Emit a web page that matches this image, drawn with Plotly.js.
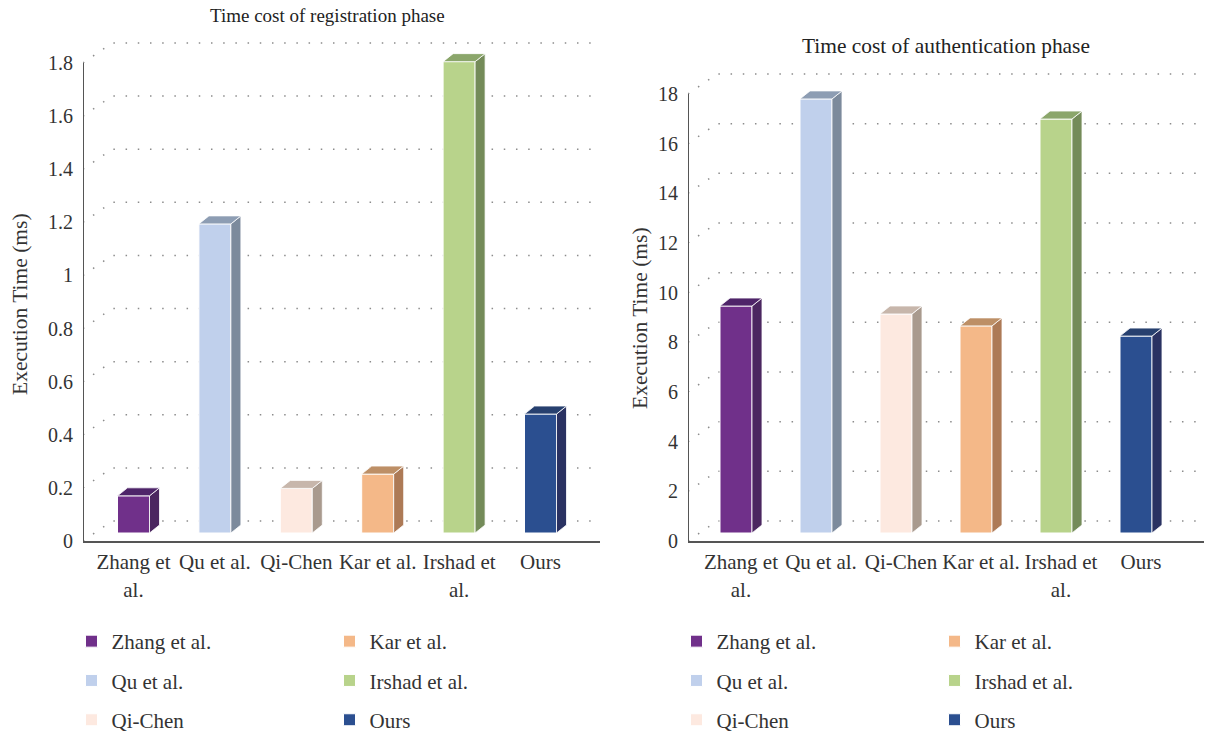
<!DOCTYPE html>
<html>
<head>
<meta charset="utf-8">
<script src="https://cdn.plot.ly/plotly-3.0.1.min.js"></script>
<style>html,body{margin:0;padding:0;background:#fff}#chart{width:1207px;height:735px}</style>
</head>
<body>
<div id="chart"></div>
<script>
// Measured execution times per scheme
const categories = ['Zhang et al.', 'Qu et al.', 'Qi-Chen', 'Kar et al.', 'Irshad et al.', 'Ours'];
const tickLabels = ['Zhang et<br>al.', 'Qu et al.', 'Qi-Chen', 'Kar et al.', 'Irshad et<br>al.', 'Ours'];
const registrationTimes = [0.14, 1.164, 0.168, 0.222, 1.775, 0.448];
const authenticationTimes = [9.14, 17.48, 8.82, 8.34, 16.67, 7.93];
const registrationTicks = [0, 0.2, 0.4, 0.6, 0.8, 1, 1.2, 1.4, 1.6, 1.8];
const authenticationTicks = [0, 2, 4, 6, 8, 10, 12, 14, 16, 18];
const registrationTickText = ['0', '0.2', '0.4', '0.6', '0.8', '1', '1.2', '1.4', '1.6', '1.8'];

// Front, top and side shades of each pseudo-3D column
const frontColors = ['#70308a', '#c0d0ec', '#fde9e0', '#f4b888', '#b8d38b', '#2b4f90'];
const topColors = ['#4e2469', '#8d9db3', '#c7b6ab', '#bd8f66', '#8ba66b', '#27406f'];
const sideColors = ['#4b2660', '#7c8a9c', '#a99a8e', '#ad7a56', '#748b59', '#2a3262'];

const W = 1207, H = 735, FONT = '"Liberation Serif", serif', INK = '#333333', AXIS = '#555555';

// Pixel geometry of the two panels
const panels = [
  {id: '', left: 83, right: 600, top: 30, zero: 541, topTick: 63, firstLabel: 133.5, step: 81.4, barShift: 0,
   values: registrationTimes, ticks: registrationTicks, tickText: registrationTickText,
   legends: ['legend', 'legend2'], legendX: [71.5, 329.5], titleX: 20, titleY: 304},
  {id: '2', left: 688, right: 1204, top: 30, zero: 541, topTick: 94, firstLabel: 741, step: 80, barShift: -5,
   values: authenticationTimes, ticks: authenticationTicks, tickText: authenticationTicks.map(String),
   legends: ['legend3', 'legend4'], legendX: [676.5, 934.5], titleX: 640, titleY: 318}
];

const traces = [], shapes = [], annotations = [], layout = {
  width: W, height: H, margin: {l: 0, r: 0, t: 0, b: 0, autoexpand: false}, barmode: 'overlay',
  paper_bgcolor: '#ffffff', plot_bgcolor: 'rgba(0,0,0,0)', font: {family: FONT, size: 21, color: INK},
  showlegend: true
};

panels.forEach((p, pi) => {
  const xa = 'x' + p.id, ya = 'y' + p.id;
  const topVal = p.ticks[p.ticks.length - 1];
  const pxPerY = (p.zero - p.topTick) / topVal;
  const xMin = (p.left - p.firstLabel) / p.step, xMax = (p.right - p.firstLabel) / p.step;
  const yMax = (p.zero - p.top) / pxPerY;
  const halfW = 16 / p.step, dx = 10 / p.step, dy = 8 / pxPerY, shift = p.barShift / p.step;
  const wallDx = 29 / p.step, wallDy = 20 / pxPerY;

  layout['xaxis' + p.id] = {
    domain: [p.left / W, p.right / W], range: [xMin, xMax], anchor: ya, type: 'linear',
    tickmode: 'array', tickvals: categories.map((_, i) => i), ticktext: tickLabels,
    showline: true, linecolor: AXIS, linewidth: 2, showgrid: false, zeroline: false, ticks: '',
    ticklabelstandoff: 1, tickfont: {family: FONT, size: 21, color: INK}
  };
  layout['yaxis' + p.id] = {
    domain: [1 - p.zero / H, 1 - p.top / H], range: [0, yMax], anchor: xa, type: 'linear',
    tickmode: 'array', tickvals: p.ticks, ticktext: p.tickText,
    showline: false, showgrid: false, zeroline: false, ticks: '', ticklabelstandoff: 9,
    tickfont: {family: FONT, size: 20, color: INK}
  };

  annotations.push({
    text: 'Execution Time (ms)', xref: 'paper', yref: 'paper', x: p.titleX / W, y: 1 - p.titleY / H,
    xanchor: 'center', yanchor: 'middle', textangle: -90, showarrow: false,
    font: {family: FONT, size: 21.5, color: INK}
  });

  // Dotted floor-to-wall guides behind the columns
  p.ticks.forEach(t => {
    const xEnd = xMax - 3 / p.step;
    shapes.push({
      type: 'path', xref: xa, yref: ya, layer: 'below',
      path: `M ${xMin} ${t} L ${xMin + wallDx} ${t + wallDy} L ${xEnd} ${t + wallDy}`,
      line: {color: '#8c8c8c', width: 1.5, dash: '1.5px,10.7px'}
    });
  });
  // Value axis spine stops at the last tick
  shapes.push({type: 'line', xref: xa, yref: ya, x0: xMin, x1: xMin, y0: 0, y1: topVal, line: {color: AXIS, width: 2}});

  p.values.forEach((v, i) => {
    const c = i + shift, l = c - halfW, r = c + halfW, b = dy, t = dy + v;
    const col = i < 3 ? 0 : 1;
    traces.push({
      type: 'bar', name: categories[i], x: [c], y: [v], base: [b], width: [2 * halfW],
      xaxis: xa, yaxis: ya, legend: p.legends[col], legendgroup: 'p' + pi + 's' + i,
      marker: {color: frontColors[i], line: {color: '#ffffff', width: 1}}, hoverinfo: 'name+y'
    });
    traces.push({
      type: 'scatter', mode: 'lines', x: [r, r + dx, r + dx, r, r], y: [b, b + dy, t + dy, t, b],
      fill: 'toself', fillcolor: sideColors[i], line: {color: '#ffffff', width: 0.8},
      xaxis: xa, yaxis: ya, showlegend: false, hoverinfo: 'skip'
    });
    traces.push({
      type: 'scatter', mode: 'lines', x: [l, l + dx, r + dx, r, l], y: [t, t + dy, t + dy, t, t],
      fill: 'toself', fillcolor: topColors[i], line: {color: '#ffffff', width: 0.8},
      xaxis: xa, yaxis: ya, showlegend: false, hoverinfo: 'skip'
    });
  });

  p.legends.forEach((name, k) => {
    layout[name] = {
      x: p.legendX[k] / W, xanchor: 'left', y: 1 - 621 / H, yanchor: 'top', xref: 'paper', yref: 'paper',
      bgcolor: 'rgba(0,0,0,0)', borderwidth: 0, tracegroupgap: 9, traceorder: 'grouped',
      font: {family: FONT, size: 21, color: INK}
    };
  });
});

annotations.push(
  {text: 'Time cost of registration phase', xref: 'paper', yref: 'paper', x: 327.5 / W, y: 1 - 15 / H,
   xanchor: 'center', yanchor: 'middle', showarrow: false, font: {family: FONT, size: 19, color: '#222222'}},
  {text: 'Time cost of authentication phase', xref: 'paper', yref: 'paper', x: 946 / W, y: 1 - 46 / H,
   xanchor: 'center', yanchor: 'middle', showarrow: false, font: {family: FONT, size: 21.4, color: '#222222'}}
);
layout.shapes = shapes;
layout.annotations = annotations;

Plotly.newPlot('chart', traces, layout, {displayModeBar: false, responsive: false});
</script>
</body>
</html>
